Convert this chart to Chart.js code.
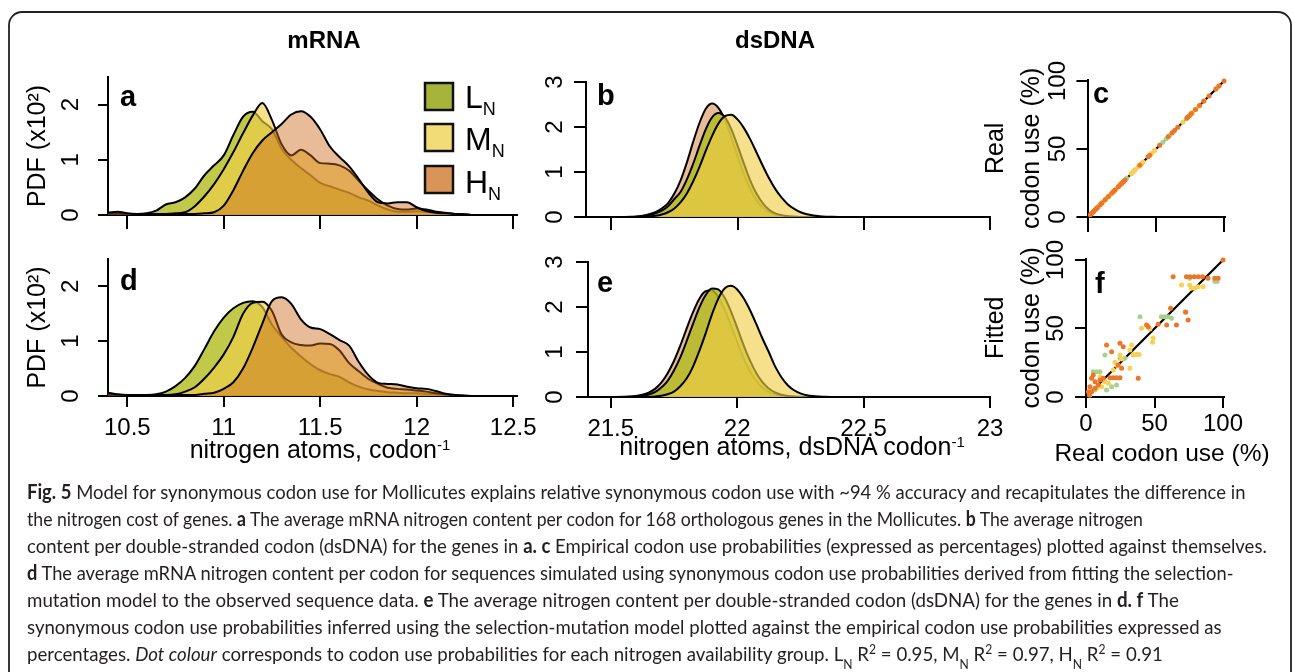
<!DOCTYPE html>
<html>
<head>
<meta charset="utf-8">
<title>Fig. 5</title>
<script src="https://cdn.jsdelivr.net/npm/chart.js@4.4.1/dist/chart.umd.min.js"></script>
<style>
html, body { margin:0; padding:0; background:#fff; }
#page { position:relative; width:1293px; height:672px; overflow:hidden; background:#fff; }
#page canvas { position:absolute; }
#ov { position:absolute; left:0; top:0; pointer-events:none; }
</style>
</head>
<body>
<div id="page">
<canvas id="ca"></canvas>
<canvas id="cd"></canvas>
<canvas id="cb"></canvas>
<canvas id="ce"></canvas>
<canvas id="cc"></canvas>
<canvas id="cf"></canvas>
<svg id="ov" width="1293" height="672" xmlns="http://www.w3.org/2000/svg">
  <rect x="9" y="12" width="1282" height="720" rx="13" ry="13" fill="none" stroke="#222" stroke-width="1.8"/>
  <g font-family="'Liberation Sans', Arial, sans-serif" font-weight="bold" font-size="24" text-anchor="middle" fill="#000">
    <text x="324" y="48">mRNA</text>
    <text x="775" y="48">dsDNA</text>
  </g>
  <g font-family="'Liberation Sans', Arial, sans-serif" font-weight="bold" font-size="29" fill="#000">
    <text x="120" y="106">a</text>
    <text x="597" y="105">b</text>
    <text x="1093" y="103">c</text>
    <text x="120" y="290">d</text>
    <text x="597" y="292">e</text>
    <text x="1095" y="293">f</text>
  </g>
  <g stroke="#111" stroke-width="2.5">
    <rect x="425" y="83" width="28" height="27" fill="#A6B53A"/>
    <rect x="425" y="124" width="28" height="27" fill="#F2DC78"/>
    <rect x="425" y="166" width="28" height="27" fill="#DA9458"/>
  </g>
  <g font-family="'Liberation Sans', Arial, sans-serif" font-size="32" fill="#000">
    <text x="465" y="108">L<tspan font-size="18" dy="7">N</tspan></text>
    <text x="465" y="150">M<tspan font-size="18" dy="7">N</tspan></text>
    <text x="465" y="193">H<tspan font-size="18" dy="7">N</tspan></text>
  </g>
  <g font-family="'Liberation Sans', Arial, sans-serif" font-size="25" fill="#000" text-anchor="middle">
    <text x="320" y="458">nitrogen atoms, codon<tspan font-size="15" baseline-shift="super">-1</tspan></text>
    <text x="792" y="455">nitrogen atoms, dsDNA codon<tspan font-size="15" baseline-shift="super">-1</tspan></text>
    <text x="1162" y="461" font-size="24.5">Real codon use (%)</text>
  </g>
  <g id="cap" font-family="Lato, 'Open Sans', sans-serif" font-size="20" fill="#231f20">
    <text class="capl" data-end="1245" x="0" y="499" transform="translate(27,0)"><tspan font-weight="bold">Fig. 5</tspan> Model for synonymous codon use for Mollicutes explains relative synonymous codon use with ~94 % accuracy and recapitulates the difference in</text>
    <text class="capl" data-end="1143" x="0" y="526" transform="translate(27,0)">the nitrogen cost of genes. <tspan font-weight="bold">a</tspan> The average mRNA nitrogen content per codon for 168 orthologous genes in the Mollicutes. <tspan font-weight="bold">b</tspan> The average nitrogen</text>
    <text class="capl" data-end="1267" x="0" y="553" transform="translate(27,0)">content per double-stranded codon (dsDNA) for the genes in <tspan font-weight="bold">a. c</tspan> Empirical codon use probabilities (expressed as percentages) plotted against themselves.</text>
    <text class="capl" data-end="1233" x="0" y="580" transform="translate(27,0)"><tspan font-weight="bold">d</tspan> The average mRNA nitrogen content per codon for sequences simulated using synonymous codon use probabilities derived from fitting the selection-</text>
    <text class="capl" data-end="1179" x="0" y="607" transform="translate(27,0)">mutation model to the observed sequence data. <tspan font-weight="bold">e</tspan> The average nitrogen content per double-stranded codon (dsDNA) for the genes in <tspan font-weight="bold">d. f</tspan> The</text>
    <text class="capl" data-end="1222" x="0" y="634" transform="translate(27,0)">synonymous codon use probabilities inferred using the selection-mutation model plotted against the empirical codon use probabilities expressed as</text>
    <text class="capl" data-end="1163" x="0" y="661" transform="translate(27,0)">percentages. <tspan font-style="italic">Dot colour</tspan> corresponds to codon use probabilities for each nitrogen availability group. L<tspan font-size="13" baseline-shift="sub">N</tspan> R<tspan font-size="13" baseline-shift="super">2</tspan> = 0.95, M<tspan font-size="13" baseline-shift="sub">N</tspan> R<tspan font-size="13" baseline-shift="super">2</tspan> = 0.97, H<tspan font-size="13" baseline-shift="sub">N</tspan> R<tspan font-size="13" baseline-shift="super">2</tspan> = 0.91</text>
  </g>
</svg>
</div>
<script>
// ---------------- data ----------------
// mRNA nitrogen atoms per codon (x grid for panels a, d)
const mrnaX = [10.40,10.45,10.50,10.55,10.60,10.65,10.70,10.75,10.80,10.85,10.90,10.95,11.00,11.05,11.10,11.15,11.20,11.25,11.30,11.35,11.40,11.45,11.50,11.55,11.60,11.65,11.70,11.75,11.80,11.85,11.90,11.95,12.00,12.05,12.10,12.15,12.20,12.25,12.30,12.35,12.40,12.45,12.50];
// panel a: PDF (x10^2), real sequences
const aL = [.02,.03,.02,.02,.03,.08,.19,.23,.32,.48,.72,.90,1.08,1.45,1.78,1.87,1.70,1.55,1.20,1.00,.85,.72,.58,.52,.46,.40,.32,.26,.17,.10,.06,.06,.07,.06,.05,.03,.02,.01,0,0,0,0,0];
const aM = [.01,.02,.02,.02,.02,.02,.02,.03,.05,.16,.34,.56,.83,1.14,1.48,1.80,2.03,1.72,1.28,1.08,1.18,1.08,.94,.93,.90,.80,.62,.44,.28,.17,.11,.10,.12,.10,.06,.04,.02,.01,0,0,0,0,0];
const aH = [.04,.06,.03,.02,.02,.02,.02,.02,.02,.02,.03,.05,.17,.45,.80,1.12,1.35,1.50,1.65,1.82,1.88,1.78,1.55,1.24,1.05,.88,.65,.40,.23,.21,.23,.23,.14,.07,.04,.03,.02,.01,0,0,0,0,0];
// panel d: PDF (x10^2), simulated sequences
const dL = [.02,.02,.02,.02,.02,.03,.08,.18,.33,.55,.86,1.18,1.43,1.60,1.70,1.73,1.62,1.30,1.08,.88,.72,.58,.47,.40,.35,.25,.17,.12,.09,.07,.06,.05,.05,.04,.03,.02,.01,0,0,0,0,0,0];
const dM = [.02,.02,.02,.02,.02,.02,.02,.03,.08,.16,.32,.52,.76,1.08,1.50,1.70,1.72,1.55,1.12,.98,.93,.92,.96,.95,.83,.60,.45,.31,.22,.15,.13,.12,.10,.08,.05,.03,.01,0,0,0,0,0,0];
const dH = [.06,.03,.02,.02,.02,.02,.02,.02,.02,.02,.04,.06,.13,.25,.50,.88,1.32,1.73,1.80,1.68,1.40,1.25,1.22,1.13,1.02,.92,.62,.38,.24,.22,.21,.17,.14,.13,.09,.04,.02,.01,0,0,0,0,0];

// dsDNA nitrogen atoms per codon (x grid for panels b, e)
const dnaX = [21.50,21.55,21.575,21.60,21.625,21.65,21.675,21.70,21.725,21.75,21.775,21.80,21.825,21.85,21.875,21.90,21.925,21.95,21.975,22.00,22.025,22.05,22.075,22.10,22.125,22.15,22.175,22.20,22.225,22.25,22.275,22.30,22.325,22.35,22.375,22.40,22.45];
const bH = [0,.002,.004,.01,.03,.06,.11,.19,.31,.52,.82,1.22,1.68,2.10,2.41,2.52,2.42,2.16,1.78,1.36,.96,.63,.38,.21,.11,.053,.024,.010,.004,.001,0,0,0,0,0,0,0];
const bL = [0,.001,.002,.005,.015,.04,.08,.14,.24,.40,.56,.84,1.19,1.59,1.96,2.22,2.31,2.22,1.96,1.59,1.19,.82,.52,.31,.16,.08,.037,.016,.006,.002,0,0,0,0,0,0,0];
const bM = [0,0,0,.002,.005,.012,.026,.054,.106,.19,.33,.53,.80,1.12,1.48,1.81,2.08,2.24,2.27,2.17,1.98,1.73,1.44,1.14,.86,.62,.43,.28,.18,.105,.06,.033,.017,.008,.004,.002,0];
const eH = [0,.004,.010,.023,.049,.098,.18,.32,.53,.80,1.14,1.52,1.88,2.18,2.35,2.37,2.22,1.95,1.59,1.22,.87,.58,.36,.21,.11,.056,.026,.012,.005,.002,0,0,0,0,0,0,0];
const eL = [0,.002,.005,.012,.027,.057,.11,.21,.36,.59,.88,1.24,1.62,1.98,2.26,2.41,2.39,2.21,1.91,1.54,1.16,.82,.54,.33,.19,.10,.05,.023,.01,.004,.001,0,0,0,0,0,0];
const eM = [0,0,0,.001,.002,.004,.011,.027,.061,.12,.24,.41,.67,1.02,1.41,1.83,2.18,2.41,2.47,2.39,2.20,1.94,1.63,1.30,1.00,.68,.44,.26,.15,.08,.04,.02,.01,.004,.002,0,0];

// panels c, f: real vs fitted codon use (%)
const realL = [94,95.6,75.7,39.4,55,57.5,60,62.4,72.3,34.5,13.8,24.8,28.4,5.3,7.8,10.2,6.6,15,22.3,18.7,2.9];
const fitL  = [84.2,84.2,86.6,58.6,58.6,58.6,58.6,57.4,62.3,30.7,30.7,28.2,28.2,18.5,18.5,18.5,5.1,5.1,8.8,7.5,1.5];
const realM = [69.7,75.7,76.9,79.4,81.8,85.4,40.5,46.6,48.5,49,33.3,32,34.5,36.9,38.8,24.8,26,21.1,22.8,32,19.9,10.2,13.8,7.8,11.4,16.3];
const fitM  = [81.8,81.8,79.3,79.3,80.5,80.5,50.1,49.6,39.9,43,38,34.3,31.1,31.1,31.1,30.7,27.7,25.3,22.9,20.9,19.7,14.8,11.2,6.3,7.5,10];
const realH = [100,63.6,73.3,76,79,82,85,89,94,96.4,61.7,72.8,66,74.5,58.9,44.2,45.4,52.7,38.1,15,24.8,27.2,18.7,23.5,26,17.5,19.9,22.3,24.8,5.3,4.1,6.6,9,2.9,1.7,2.4,10.2,12.6,6.6,4.1];
const fitH  = [100,87.8,87.8,87.8,87.8,87.8,87.8,86.6,86.6,86.6,64.7,61.8,52.6,56.2,52.6,52.6,51.3,53,13.6,38,39.2,36.7,33,23.4,20.9,14.1,14.1,14.1,14.1,16.1,13.6,11.2,8.8,7.5,3.9,1.5,12.4,13.6,6.3,3.9];
const diagX = [0, 100];
const diagY = [0, 100];

// tick labels
const mrnaTicks = [10.5, 11, 11.5, 12, 12.5];
const dnaTicks = [21.5, 22, 22.5, 23];
const pdfTicksA = [0, 1, 2];
const pdfTicksB = [0, 1, 2, 3];
const pctTicks = [0, 50, 100];

// ---------------- drawing ----------------
const FONT = "'Liberation Sans', Arial, Helvetica, sans-serif";
Chart.defaults.font.family = FONT;
Chart.defaults.font.size = 24;
Chart.defaults.color = '#000';

const INK = '#000';
const AXW = 2;
const FILL = { L: 'rgba(178,187,30,0.8)', M: 'rgba(241,206,72,0.63)', H: 'rgba(204,107,27,0.45)' };
const DOT = { L: '#a9d18e', M: '#f8d052', H: '#ed7626' };

function place(id, b) {
  const c = document.getElementById(id);
  c.width = b.w; c.height = b.h;
  c.style.left = b.x + 'px'; c.style.top = b.y + 'px';
  c.style.width = b.w + 'px'; c.style.height = b.h + 'px';
  return c;
}
function pts(xs, ys) { return xs.map((x, i) => ({ x: x, y: ys[i] })); }
function fixSize(w, h) {
  return function (s) {
    if (w != null) s.width = w;
    if (h != null) s.height = h;
    s.paddingLeft = 0; s.paddingRight = 0; s.paddingTop = 0; s.paddingBottom = 0;
  };
}
function useTicks(vals) { return function (s) { s.ticks = vals.map(v => ({ value: v })); }; }

function xAxis(o) {
  return {
    type: 'linear', position: 'bottom', min: o.min, max: o.max, bounds: 'data',
    afterBuildTicks: useTicks(o.ticks),
    afterFit: fixSize(null, o.h),
    grid: { display: true, drawOnChartArea: false, drawTicks: true, tickLength: o.tl, color: INK, lineWidth: AXW },
    border: { display: true, color: INK, width: AXW },
    ticks: { display: o.labels, autoSkip: false, minRotation: 0, maxRotation: 0, padding: o.pad || 0,
             callback: v => String(v), font: { size: 24 } },
    title: { display: false }
  };
}
function yAxis(o) {
  return {
    type: 'linear', position: 'left', min: o.min, max: o.max, bounds: 'data',
    afterBuildTicks: useTicks(o.ticks),
    afterFit: fixSize(o.w, null),
    grid: { display: true, drawOnChartArea: false, drawTicks: true, tickLength: o.tl, color: INK, lineWidth: AXW },
    border: { display: true, color: INK, width: AXW },
    ticks: { display: true, autoSkip: false, minRotation: 90, maxRotation: 90, crossAlign: 'center',
             padding: o.pad, callback: v => String(v), font: { size: 24 } },
    title: o.title ? { display: true, text: o.title, color: INK,
                       padding: { top: o.tpad, bottom: 0 }, font: { size: 25, lineHeight: o.lh || 1.2 } }
                   : { display: false }
  };
}
function options(o) {
  return {
    responsive: false, maintainAspectRatio: false, animation: false, devicePixelRatio: 1,
    events: [],
    layout: { padding: o.padding },
    plugins: { legend: { display: false }, tooltip: { enabled: false }, title: { display: false } },
    scales: { x: o.x, y: o.y }
  };
}
function curve(xs, ys, fill, order) {
  return { data: pts(xs, ys), fill: 'origin', backgroundColor: fill, borderColor: INK, borderWidth: 2,
           pointRadius: 0, cubicInterpolationMode: 'monotone', order: order };
}
function dots(xs, ys, color, order) {
  return { type: 'scatter', data: pts(xs, ys), backgroundColor: color, borderWidth: 0,
           pointRadius: 2.5, pointHoverRadius: 2.5, clip: false, order: order };
}
function diag() {
  return { type: 'line', data: pts(diagX, diagY), borderColor: INK, borderWidth: 2.2, pointRadius: 0,
           showLine: true, fill: false, clip: false, order: 10 };
}

// panel a
new Chart(place('ca', { x: 14, y: 57, w: 526, h: 178 }), {
  type: 'line',
  data: { datasets: [curve(mrnaX, aL, FILL.L, 2), curve(mrnaX, aM, FILL.M, 1), curve(mrnaX, aH, FILL.H, 0)] },
  options: options({
    padding: { left: 0, top: 20, right: 23, bottom: 0 },
    x: xAxis({ min: 10.4, max: 12.52, ticks: mrnaTicks, h: 20, tl: 14, labels: false }),
    y: yAxis({ min: 0, max: 2.5, ticks: pdfTicksA, w: 94, tl: 10, pad: 20, title: 'PDF (x10²)', tpad: 9 })
  })
});
// panel d
new Chart(place('cd', { x: 14, y: 239, w: 531, h: 233 }), {
  type: 'line',
  data: { datasets: [curve(mrnaX, dL, FILL.L, 2), curve(mrnaX, dM, FILL.M, 1), curve(mrnaX, dH, FILL.H, 0)] },
  options: options({
    padding: { left: 0, top: 20, right: 28, bottom: 0 },
    x: xAxis({ min: 10.4, max: 12.52, ticks: mrnaTicks, h: 76, tl: 11, pad: 7, labels: true }),
    y: yAxis({ min: 0, max: 2.5, ticks: pdfTicksA, w: 94, tl: 10, pad: 20, title: 'PDF (x10²)', tpad: 9 })
  })
});
// panel b
new Chart(place('cb', { x: 535, y: 62, w: 465, h: 175 }), {
  type: 'line',
  data: { datasets: [curve(dnaX, bH, FILL.H, 2), curve(dnaX, bL, FILL.L, 1), curve(dnaX, bM, FILL.M, 0)] },
  options: options({
    padding: { left: 0, top: 20, right: 10, bottom: 0 },
    x: xAxis({ min: 21.4, max: 23.0, ticks: dnaTicks, h: 20, tl: 13, labels: false }),
    y: yAxis({ min: 0, max: 3, ticks: pdfTicksB, w: 51, tl: 12, pad: 12.3 })
  })
});
// panel e
new Chart(place('ce', { x: 535, y: 242, w: 480, h: 230 }), {
  type: 'line',
  data: { datasets: [curve(dnaX, eH, FILL.H, 2), curve(dnaX, eL, FILL.L, 1), curve(dnaX, eM, FILL.M, 0)] },
  options: options({
    padding: { left: 0, top: 20, right: 25, bottom: 0 },
    x: xAxis({ min: 21.41, max: 23.0, ticks: dnaTicks, h: 75, tl: 11, pad: 7, labels: true }),
    y: yAxis({ min: 0, max: 3, ticks: pdfTicksB, w: 53, tl: 12, pad: 14.3 })
  })
});
// panel c
new Chart(place('cc', { x: 975, y: 50, w: 315, h: 190 }), {
  type: 'scatter',
  data: { datasets: [diag(), dots(realL, realL, DOT.L, 3), dots(realM, realM, DOT.M, 2), dots(realH, realH, DOT.H, 1)] },
  options: options({
    padding: { left: 0, top: 29.6, right: 64.6, bottom: 0 },
    x: xAxis({ min: 0, max: 101, ticks: pctTicks, h: 23, tl: 15, labels: false }),
    y: yAxis({ min: 0, max: 101, ticks: pctTicks, w: 113, tl: 11.6, pad: -2.3,
               title: ['Real', 'codon use (%)'], tpad: 3.3, lh: 1.44 })
  })
});
// panel f
new Chart(place('cf', { x: 975, y: 230, w: 315, h: 242 }), {
  type: 'scatter',
  data: { datasets: [diag(), dots(realL, fitL, DOT.L, 3), dots(realM, fitM, DOT.M, 2), dots(realH, fitH, DOT.H, 1)] },
  options: options({
    padding: { left: 0, top: 28.6, right: 65.6, bottom: 0 },
    x: xAxis({ min: 0, max: 101, ticks: pctTicks, h: 75, tl: 11, pad: 2.3, labels: true }),
    y: yAxis({ min: 0, max: 101, ticks: pctTicks, w: 111, tl: 11, pad: -1.7,
               title: ['Fitted', 'codon use (%)'], tpad: 3.3, lh: 1.44 })
  })
});

// caption: each line fitted to where it ends in the figure
function fitCaption() {
  document.querySelectorAll('.capl').forEach(function (t) {
    const w = t.getComputedTextLength();
    const end = parseFloat(t.getAttribute('data-end'));
    if (w > 0) {
      const s = (end - 27) / w;
      t.setAttribute('transform', 'translate(27,0) scale(' + s + ',1)');
    }
  });
}
fitCaption();
if (document.fonts && document.fonts.ready) document.fonts.ready.then(fitCaption);
</script>
</body>
</html>
